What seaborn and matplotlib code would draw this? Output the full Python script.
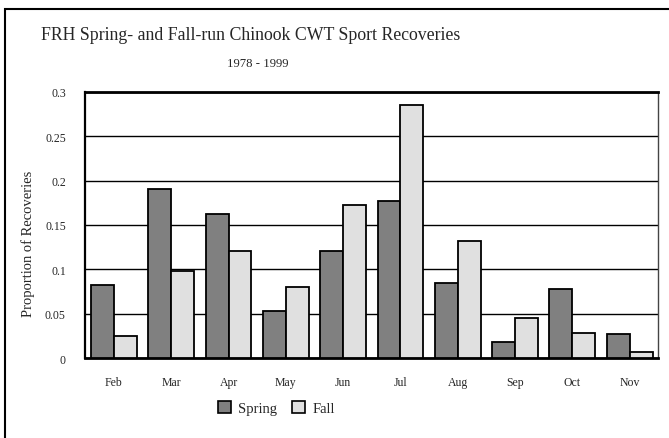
import matplotlib
matplotlib.use("Agg")
import matplotlib.pyplot as plt
import seaborn as sns
import pandas as pd
from matplotlib.patches import Rectangle

months = ["Feb", "Mar", "Apr", "May", "Jun", "Jul", "Aug", "Sep", "Oct", "Nov"]
spring = [0.083, 0.191, 0.162, 0.053, 0.121, 0.177, 0.085, 0.018, 0.078, 0.027]
fall = [0.025, 0.098, 0.121, 0.080, 0.173, 0.285, 0.132, 0.045, 0.029, 0.007]
yticks = [0, 0.05, 0.1, 0.15, 0.2, 0.25, 0.3]
ytick_labels = ["0", "0.05", "0.1", "0.15", "0.2", "0.25", "0.3"]

df = pd.DataFrame({
    "Month": months * 2,
    "Run": ["Spring"] * len(months) + ["Fall"] * len(months),
    "Value": spring + fall,
})

sns.set_theme(style="white")
plt.rcParams["font.family"] = ["Liberation Serif", "DejaVu Serif"]

fig = plt.figure(figsize=(6.69, 4.39), dpi=100)
ax = fig.add_axes([0.1275, 0.1815, 0.8565, 0.6075])

sns.barplot(data=df, x="Month", y="Value", hue="Run", order=months,
            hue_order=["Spring", "Fall"],
            palette={"Spring": "#808080", "Fall": "#e0e0e0"},
            edgecolor="black", linewidth=1.3, width=0.8, ax=ax, legend=False,
            zorder=3)

ax.set_ylim(0, 0.3)
ax.set_xlim(-0.5, len(months) - 0.5)
ax.set_yticks(yticks)
ax.set_yticklabels(ytick_labels, fontsize=8.5)
ax.tick_params(axis="x", labelsize=8.5, pad=13, length=0)
ax.tick_params(axis="y", pad=14, length=0)
ax.set_xlabel("")
ax.set_ylabel("Proportion of Recoveries", fontsize=10.5)
ax.yaxis.set_label_coords(-0.087, 0.432)
ax.yaxis.grid(True, color="black", linewidth=1.0, zorder=0)
ax.set_axisbelow(True)
for s in ["top", "bottom"]:
    ax.spines[s].set_linewidth(2.0)
    ax.spines[s].set_color("black")
ax.spines["left"].set_linewidth(1.6)
ax.spines["left"].set_color("black")
ax.spines["right"].set_linewidth(1.0)
ax.spines["right"].set_color("#444444")

fig.text(0.061, 0.918, "FRH Spring- and Fall-run Chinook CWT Sport Recoveries",
         fontsize=12.8, ha="left", va="center")
fig.text(0.386, 0.855, "1978 - 1999", fontsize=9.2, ha="center", va="center")

handles = [Rectangle((0, 0), 1, 1, facecolor="#808080", edgecolor="black", linewidth=1.2),
           Rectangle((0, 0), 1, 1, facecolor="#e0e0e0", edgecolor="black", linewidth=1.2)]
fig.legend(handles, ["Spring", "Fall"], loc="center", bbox_to_anchor=(0.413, 0.069),
           ncol=2, frameon=False, fontsize=10.5, handlelength=0.9, handleheight=0.9,
           handletextpad=0.5, columnspacing=1.0)

frame = Rectangle((0.0075, -0.1), 1.1, 1.077, transform=fig.transFigure,
                  fill=False, edgecolor="black", linewidth=1.5)
fig.patches.append(frame)

fig.savefig("out.png", dpi=100)
